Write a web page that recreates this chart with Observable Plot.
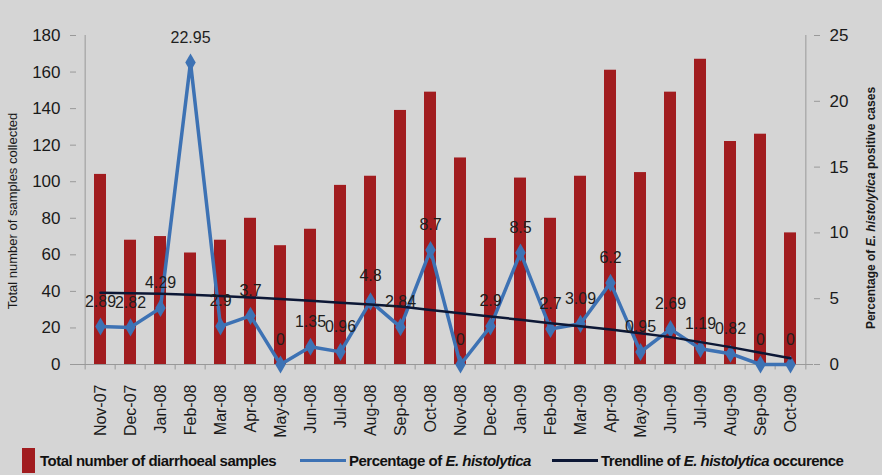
<!DOCTYPE html>
<html><head><meta charset="utf-8">
<script src="https://cdn.jsdelivr.net/npm/d3@7"></script>
<script src="https://cdn.jsdelivr.net/npm/@observablehq/plot@0.6"></script>
<style>
html,body{margin:0;padding:0;background:#d5d5d5;}
body{width:882px;height:475px;overflow:hidden;font-family:Arial,"Liberation Sans",sans-serif;}
#chart svg{display:block;}
#legend{position:relative;width:882px;height:30px;font-size:15px;font-weight:600;color:#111;letter-spacing:-0.5px;}
#legend .item{position:absolute;top:0;height:30px;display:flex;align-items:center;white-space:nowrap;}
#legend .sw{display:inline-block;width:13px;height:25px;background:#a11c1f;margin-right:5px;}
#legend .ln{display:inline-block;width:46px;margin-right:3px;}
</style></head>
<body>
<div id="chart"></div>
<div id="legend">
  <div class="item" style="left:22px"><span class="sw"></span>Total number of diarrhoeal samples</div>
  <div class="item" style="left:300px"><span class="ln" style="border-top:3px solid #3d72b4"></span>Percentage of&nbsp;<i>E. histolytica</i></div>
  <div class="item" style="left:552px"><span class="ln" style="border-top:3px solid #0c1735"></span>Trendline of&nbsp;<i>E. histolytica</i>&nbsp;occurence</div>
</div>
<script>
const months = ["Nov-07","Dec-07","Jan-08","Feb-08","Mar-08","Apr-08","May-08","Jun-08","Jul-08","Aug-08","Sep-08","Oct-08",
  "Nov-08","Dec-08","Jan-09","Feb-09","Mar-09","Apr-09","May-09","Jun-09","Jul-09","Aug-09","Sep-09","Oct-09"];
const samples = [104,68,70,61,68,80,65,74,98,103,139,149,113,69,102,80,103,161,105,149,167,122,126,72];
const pct = [2.89,2.82,4.29,22.95,2.9,3.7,0,1.35,0.96,4.8,2.84,8.7,0,2.9,8.5,2.7,3.09,6.2,0.95,2.69,1.19,0.82,0,0];
const trend = [5.45,5.41,5.37,5.3,5.2,5.1,4.98,4.85,4.7,4.55,4.4,4.15,3.9,3.65,3.4,3.14,2.91,2.66,2.38,2.08,1.7,1.32,0.89,0.48];
const leftTicks = [0,20,40,60,80,100,120,140,160,180];
const rightTicks = [0,5,10,15,20,25];
const countMax = 180, pctMax = 25;
const k = countMax / pctMax;

const rows = months.map((m, i) => ({month: m, samples: samples[i], pct: pct[i], trend: trend[i]}));
const step = (882 - 76 - 69) / months.length;
const axisGrey = "#999999";
const first = months[0], last = months[months.length - 1];

const plot = Plot.plot({
  width: 882, height: 445,
  marginLeft: 76, marginRight: 69, marginTop: 35, marginBottom: 81,
  style: {background: "transparent", fontFamily: "Arial, 'Liberation Sans', sans-serif", fontSize: "16px", color: "#1a1a1a"},
  x: {domain: months, paddingInner: 0.6, paddingOuter: 0.3},
  y: {domain: [0, countMax]},
  marks: [
    Plot.barY(rows, {x: "month", y: "samples", fill: "#a11c1f"}),
    Plot.ruleY([0], {stroke: axisGrey}),
    Plot.ruleX([first], {x: d => d, dx: -step / 2, y1: 0, y2: countMax, stroke: axisGrey}),
    Plot.ruleX([last], {x: d => d, dx: step / 2, y1: 0, y2: countMax, stroke: axisGrey}),
    Plot.ruleX(months, {x: d => d, dx: -step / 2, y1: 0, y2: -3, stroke: axisGrey}),
    Plot.ruleX([last], {x: d => d, dx: step / 2, y1: 0, y2: -3, stroke: axisGrey}),
    Plot.axisY(leftTicks, {anchor: "left", tickSize: 6, tickPadding: 10, stroke: axisGrey, fontSize: 17,
      label: "Total number of samples collected", labelAnchor: "center", labelOffset: 69, labelArrow: "none"}),
    Plot.axisY(rightTicks.map(v => v * k), {anchor: "right", tickSize: 6, tickPadding: 10, stroke: axisGrey, fontSize: 17,
      tickFormat: d => +(d / k).toFixed(2),
      label: "Percentage of E. histolytica positive cases", labelAnchor: "center", labelOffset: 61, labelArrow: "none"}),
    Plot.axisX({tickSize: 0, tickRotate: -90, tickPadding: 20, label: null, fontSize: 16}),
    Plot.lineY(rows, {x: "month", y: d => d.pct * k, stroke: "#3d72b4", strokeWidth: 3.5}),
    Plot.dot(rows, {x: "month", y: d => d.pct * k, symbol: "diamond", r: 5.5, fill: "#3d72b4"}),
    Plot.lineY(rows, {x: "month", y: d => d.trend * k, stroke: "#0c1735", strokeWidth: 2.5}),
    Plot.text(rows, {x: "month", y: d => d.pct * k, text: d => String(d.pct), dy: -25, fontSize: 16, fill: "#1e1e1e"})
  ]
});
document.getElementById("chart").appendChild(plot);

// axis titles: strip any arrow, italicize species name, nudge down a little
plot.querySelectorAll("text").forEach(t => {
  const s = t.textContent.replace(/\s*[↑↓→←]\s*/g, "");
  if (s.startsWith("Total number of samples")) {
    t.textContent = s;
    t.setAttribute("font-size", "13");
    t.setAttribute("dx", "-11");
  }
  if (s.startsWith("Percentage of E.")) {
    t.setAttribute("font-size", "12");
    t.setAttribute("font-weight", "bold");
    t.setAttribute("dx", "-8");
    t.textContent = "";
    const parts = [["Percentage of ", "normal"], ["E. histolytica", "italic"], [" positive cases", "normal"]];
    for (const [p, st] of parts) {
      const ts = document.createElementNS("http://www.w3.org/2000/svg", "tspan");
      ts.textContent = p;
      ts.setAttribute("font-style", st);
      t.appendChild(ts);
    }
  }
});
</script>
</body></html>
